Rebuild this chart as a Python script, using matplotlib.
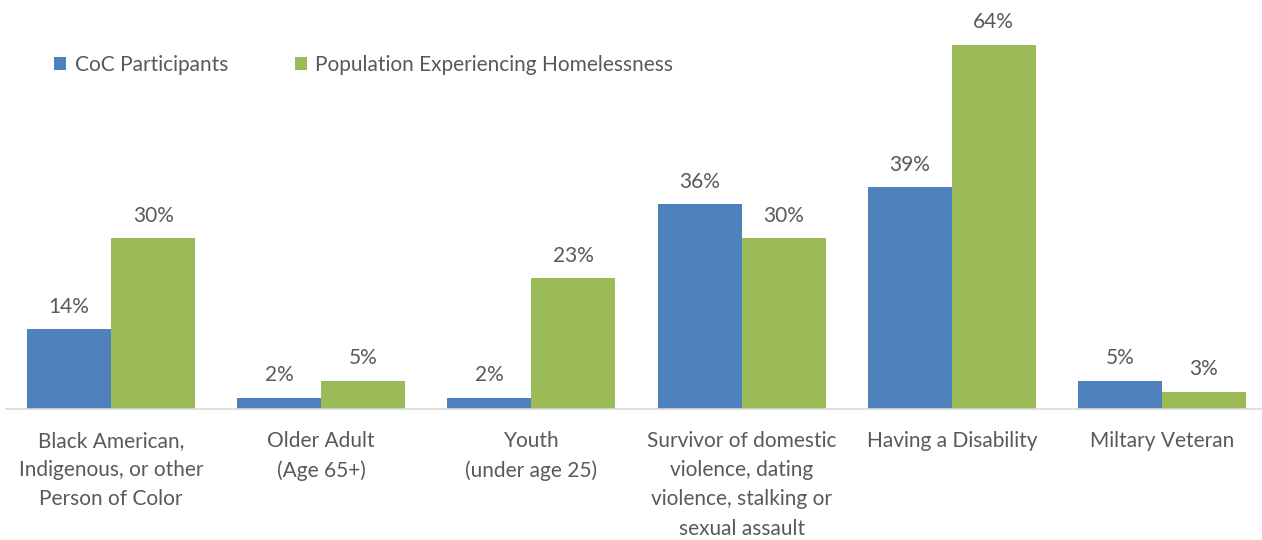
import numpy as np
import matplotlib
matplotlib.use("Agg")
from matplotlib import pyplot as plt

# data
categories = ["Black American,\nIndigenous, or other\nPerson of Color",
              "Older Adult\n(Age 65+)",
              "Youth\n(under age 25)",
              "Survivor of domestic\nviolence, dating\nviolence, stalking or\nsexual assault",
              "Having a Disability",
              "Miltary Veteran"]
coc = [14, 2, 2, 36, 39, 5]
population = [30, 5, 23, 30, 64, 3]
series_names = ["CoC Participants", "Population Experiencing Homelessness"]

blue = "#4F81BD"
green = "#9BBB59"
gray_text = "#595959"

plt.rcParams['font.family'] = ['Lato', 'DejaVu Sans']
fs = 15

W, H = 1262, 540
fig = plt.figure(figsize=(W/100, H/100), dpi=100)
ax = fig.add_axes([6/W, (H-409)/H, 1261/W, 409/H])

x = np.arange(len(categories))
bw = 0.4
b1 = ax.bar(x - bw/2, coc, bw, color=blue, label=series_names[0])
b2 = ax.bar(x + bw/2, population, bw, color=green, label=series_names[1])

for bars, vals in ((b1, coc), (b2, population)):
    for rect, v in zip(bars, vals):
        ax.annotate(f"{v}%", (rect.get_x() + rect.get_width()/2, v),
                    xytext=(0, 9), textcoords="offset points",
                    ha="center", va="bottom", fontsize=fs, color=gray_text)

ax.set_xlim(-0.5, len(categories) - 0.5)
ax.set_ylim(0, 409/5.6875)
ax.set_xticks(x)
ax.set_xticklabels(categories, fontsize=fs, color=gray_text, linespacing=1.57, va="top")
ax.tick_params(axis="x", length=0, pad=16)
ax.set_yticks([])
for s in ["top", "right", "left"]:
    ax.spines[s].set_visible(False)
ax.spines["bottom"].set_color("#D9D9D9")
ax.spines["bottom"].set_linewidth(1.2)

leg = ax.legend(loc="upper left", bbox_to_anchor=(35/W, 1 - 36/H), bbox_transform=fig.transFigure,
                ncol=2, frameon=False, fontsize=fs, handlelength=0.6, handleheight=0.6,
                handletextpad=0.4, columnspacing=3.2, labelcolor=gray_text)

fig.savefig("out.png", dpi=100)
